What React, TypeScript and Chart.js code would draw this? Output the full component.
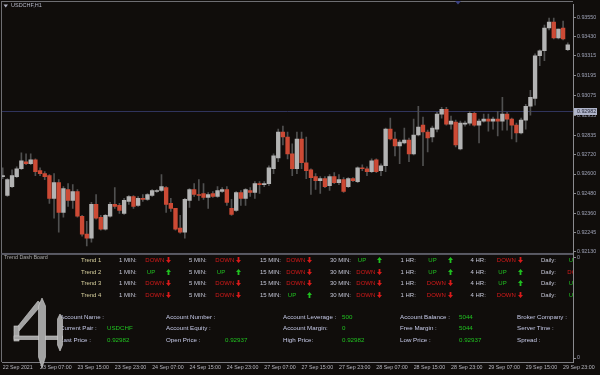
import React, { useEffect, useRef } from 'react';
import { Chart, registerables } from 'chart.js';
Chart.register(...registerables);

const timeLabels = ['22 Sep 2021', '23 Sep 07:00', '23 Sep 15:00', '23 Sep 23:00', '24 Sep 07:00', '24 Sep 15:00', '24 Sep 23:00', '27 Sep 07:00', '27 Sep 15:00', '27 Sep 23:00', '28 Sep 07:00', '28 Sep 15:00', '28 Sep 23:00', '29 Sep 07:00', '29 Sep 15:00', '29 Sep 23:00'];

const opens = [
  0.92584, 0.92470, 0.92524, 0.92584, 0.92632, 0.92674, 0.92662, 0.92686, 0.92620, 0.92602,
  0.92590, 0.92452, 0.92548, 0.92368, 0.92506, 0.92440, 0.92494, 0.92344, 0.92236, 0.92212,
  0.92416, 0.92338, 0.92266, 0.92344, 0.92416, 0.92410, 0.92362, 0.92434, 0.92464, 0.92410,
  0.92452, 0.92446, 0.92470, 0.92494, 0.92500, 0.92518, 0.92422, 0.92392, 0.92272, 0.92248,
  0.92440, 0.92506, 0.92476, 0.92482, 0.92458, 0.92482, 0.92464, 0.92494, 0.92506, 0.92392,
  0.92380, 0.92488, 0.92452, 0.92500, 0.92488, 0.92542, 0.92536, 0.92542, 0.92632, 0.92698,
  0.92854, 0.92824, 0.92722, 0.92632, 0.92812, 0.92668, 0.92626, 0.92584, 0.92560, 0.92572,
  0.92530, 0.92584, 0.92548, 0.92566, 0.92524, 0.92572, 0.92554, 0.92638, 0.92632, 0.92614,
  0.92686, 0.92620, 0.92650, 0.92872, 0.92812, 0.92770, 0.92788, 0.92806, 0.92722, 0.92836,
  0.92896, 0.92854, 0.92824, 0.92872, 0.92962, 0.92992, 0.92902, 0.92914, 0.92752, 0.92902,
  0.92908, 0.92968, 0.92896, 0.92920, 0.92932, 0.92920, 0.92932, 0.92920, 0.92962, 0.92932,
  0.92896, 0.92848, 0.92926, 0.93010, 0.93058, 0.93316, 0.93346, 0.93484, 0.93520, 0.93424,
  0.93484, 0.93352,
];

const highs = [
  0.92638, 0.92572, 0.92626, 0.92644, 0.92728, 0.92722, 0.92722, 0.92692, 0.92638, 0.92614,
  0.92596, 0.92602, 0.92566, 0.92524, 0.92542, 0.92536, 0.92506, 0.92350, 0.92314, 0.92428,
  0.92476, 0.92350, 0.92356, 0.92428, 0.92518, 0.92422, 0.92452, 0.92470, 0.92470, 0.92464,
  0.92476, 0.92482, 0.92506, 0.92506, 0.92596, 0.92524, 0.92452, 0.92392, 0.92350, 0.92452,
  0.92512, 0.92542, 0.92566, 0.92542, 0.92488, 0.92494, 0.92524, 0.92518, 0.92524, 0.92446,
  0.92494, 0.92500, 0.92512, 0.92518, 0.92554, 0.92554, 0.92554, 0.92650, 0.92722, 0.92872,
  0.92890, 0.92854, 0.92782, 0.92854, 0.92854, 0.92824, 0.92632, 0.92602, 0.92584, 0.92584,
  0.92596, 0.92608, 0.92596, 0.92578, 0.92578, 0.92578, 0.92644, 0.92656, 0.92644, 0.92692,
  0.92692, 0.92662, 0.92878, 0.92938, 0.92854, 0.92806, 0.92878, 0.92818, 0.92932, 0.93010,
  0.92944, 0.92866, 0.92890, 0.92974, 0.93004, 0.93004, 0.92950, 0.92926, 0.92920, 0.92920,
  0.92980, 0.92974, 0.92932, 0.92962, 0.92962, 0.92944, 0.92980, 0.93064, 0.92974, 0.92938,
  0.92908, 0.92938, 0.93022, 0.93106, 0.93328, 0.93352, 0.93502, 0.93544, 0.93544, 0.93478,
  0.93526, 0.93394,
];

const lows = [
  0.92572, 0.92464, 0.92518, 0.92578, 0.92626, 0.92656, 0.92656, 0.92590, 0.92590, 0.92566,
  0.92422, 0.92332, 0.92248, 0.92338, 0.92404, 0.92392, 0.92338, 0.92224, 0.92164, 0.92188,
  0.92326, 0.92260, 0.92260, 0.92338, 0.92392, 0.92362, 0.92356, 0.92416, 0.92392, 0.92404,
  0.92434, 0.92440, 0.92464, 0.92488, 0.92494, 0.92368, 0.92374, 0.92260, 0.92242, 0.92212,
  0.92398, 0.92464, 0.92440, 0.92446, 0.92392, 0.92458, 0.92458, 0.92488, 0.92410, 0.92350,
  0.92374, 0.92410, 0.92410, 0.92464, 0.92452, 0.92482, 0.92524, 0.92530, 0.92602, 0.92674,
  0.92776, 0.92692, 0.92590, 0.92602, 0.92632, 0.92572, 0.92476, 0.92506, 0.92482, 0.92518,
  0.92500, 0.92542, 0.92536, 0.92488, 0.92518, 0.92554, 0.92548, 0.92620, 0.92590, 0.92608,
  0.92608, 0.92590, 0.92614, 0.92806, 0.92710, 0.92662, 0.92782, 0.92674, 0.92716, 0.92830,
  0.92650, 0.92734, 0.92794, 0.92854, 0.92938, 0.92896, 0.92872, 0.92764, 0.92746, 0.92890,
  0.92896, 0.92890, 0.92788, 0.92914, 0.92860, 0.92872, 0.92830, 0.92866, 0.92866, 0.92812,
  0.92794, 0.92842, 0.92872, 0.92956, 0.93016, 0.93256, 0.93286, 0.93472, 0.93418, 0.93418,
  0.93412, 0.93346,
];

const closes = [
  0.92590, 0.92566, 0.92590, 0.92632, 0.92680, 0.92662, 0.92686, 0.92614, 0.92602, 0.92584,
  0.92452, 0.92548, 0.92368, 0.92512, 0.92440, 0.92494, 0.92344, 0.92236, 0.92212, 0.92416,
  0.92332, 0.92266, 0.92350, 0.92416, 0.92404, 0.92380, 0.92440, 0.92464, 0.92404, 0.92452,
  0.92446, 0.92476, 0.92500, 0.92500, 0.92524, 0.92416, 0.92392, 0.92266, 0.92248, 0.92446,
  0.92506, 0.92476, 0.92470, 0.92458, 0.92476, 0.92464, 0.92500, 0.92506, 0.92428, 0.92356,
  0.92488, 0.92452, 0.92506, 0.92488, 0.92542, 0.92536, 0.92542, 0.92638, 0.92710, 0.92854,
  0.92824, 0.92722, 0.92632, 0.92812, 0.92668, 0.92620, 0.92578, 0.92560, 0.92572, 0.92524,
  0.92584, 0.92548, 0.92566, 0.92494, 0.92572, 0.92560, 0.92638, 0.92632, 0.92614, 0.92680,
  0.92614, 0.92650, 0.92872, 0.92812, 0.92770, 0.92794, 0.92806, 0.92722, 0.92836, 0.92884,
  0.92854, 0.92818, 0.92878, 0.92962, 0.92992, 0.92902, 0.92920, 0.92776, 0.92908, 0.92908,
  0.92968, 0.92896, 0.92920, 0.92932, 0.92920, 0.92932, 0.92920, 0.92962, 0.92932, 0.92896,
  0.92848, 0.92926, 0.93010, 0.93064, 0.93316, 0.93346, 0.93484, 0.93520, 0.93424, 0.93478,
  0.93418, 0.93382,
];

const priceTicks = [0.93550, 0.93430, 0.93315, 0.93195, 0.93075, 0.92955, 0.92835, 0.92720, 0.92600, 0.92480, 0.92360, 0.92245, 0.92130];
const bidPrice = 0.92982;
const symbolTitle = 'USDCHF,H1';

const trendNames = ['Trend 1', 'Trend 2', 'Trend 3', 'Trend 4'];
const timeframes = ['1 MIN:', '5 MIN:', '15 MIN:', '30 MIN:', '1 HR:', '4 HR:', 'Daily:'];
const trendSignals = [
  ['DOWN', 'DOWN', 'DOWN', 'UP', 'UP', 'DOWN', 'UP'],
  ['UP', 'UP', 'DOWN', 'DOWN', 'UP', 'UP', 'DOWN'],
  ['DOWN', 'DOWN', 'DOWN', 'DOWN', 'DOWN', 'UP', 'UP'],
  ['DOWN', 'DOWN', 'UP', 'DOWN', 'DOWN', 'DOWN', 'UP'],
];
const accountLabels = [
  ['Account Name :', 'Current Pair :', 'Last Price :'],
  ['Account Number :', 'Account Equity :', 'Open Price :'],
  ['Account Leverage :', 'Account Margin:', 'High Price:'],
  ['Account Balance :', 'Free Margin :', 'Low Price :'],
  ['Broker Company :', 'Server Time :', 'Spread :'],
];
const accountValues = [
  ['', 'USDCHF', '0.92982'],
  ['', '', '0.92937'],
  ['500', '0', '0.92982'],
  ['5044', '5044', '0.92937'],
  ['', '', ''],
];

const FONT = '"Liberation Sans", Arial, sans-serif';
const BG = '#100d0b';
const BULL = '#b3b3b3';
const BEAR = '#cc4a35';
const WICK = '#505050';
const AXIS_TXT = '#a0a4b8';
const RED = '#d81a1a';
const GREEN = '#20c020';

// layout constants (px)
const SUB_TOP = 253;
const rowY = [260, 271.7, 283.3, 295];
const tfX = [119, 189, 260, 330, 400.5, 470.5, 541];
const accRowY = [316.7, 328.3, 339.7];
const accLabelX = [60, 166, 283, 400, 517];
const accValueX = [107, 225, 342, 459, 0];

function Txt(props: { x: number; y: number; s: string; color: string; size: number }) {
  const { x, y, s, color, size } = props;
  return (
    <span
      style={{
        position: 'absolute',
        left: x,
        top: y - SUB_TOP - size * 0.5,
        fontSize: size,
        lineHeight: size + 'px',
        color,
        whiteSpace: 'nowrap',
        fontFamily: FONT,
      }}
    >
      {s}
    </span>
  );
}

function Arrow(props: { x: number; y: number; up: boolean }) {
  const { x, y, up } = props;
  const pts = up
    ? '2.5,0 5,3 3.4,3 3.4,6 1.6,6 1.6,3 0,3'
    : '1.6,0 3.4,0 3.4,3 5,3 2.5,6 0,3 1.6,3';
  return (
    <svg
      width={5}
      height={6}
      style={{ position: 'absolute', left: x, top: y - SUB_TOP - 3.2 }}
    >
      <polygon points={pts} fill={up ? GREEN : RED} />
    </svg>
  );
}

export default function App() {
  const ref = useRef<HTMLCanvasElement>(null);

  useEffect(() => {
    document.body.style.margin = '0';
    const cv = ref.current;
    if (!cv) return;
    const idx = closes.map((_, i) => i);
    const bodyData = idx.map((i) => ({ x: i, y: [Math.min(opens[i], closes[i]), Math.max(opens[i], closes[i])] }));
    const wickData = idx.map((i) => ({ x: i, y: [lows[i], highs[i]] }));
    const bodyColors = idx.map((i) => (closes[i] >= opens[i] ? BULL : BEAR));

    const mt4Plugin = {
      id: 'mt4frame',
      beforeDatasetsDraw(chart: any) {
        const { ctx, chartArea } = chart;
        const y = Math.round(chart.scales.y.getPixelForValue(bidPrice)) + 0.5;
        ctx.save();
        ctx.strokeStyle = '#30345c';
        ctx.lineWidth = 1;
        ctx.beginPath();
        ctx.moveTo(chartArea.left, y);
        ctx.lineTo(chartArea.right, y);
        ctx.stroke();
        ctx.restore();
      },
      afterDraw(chart: any) {
        const { ctx, chartArea } = chart;
        ctx.save();
        ctx.strokeStyle = '#6e6e72';
        ctx.lineWidth = 1;
        ctx.beginPath();
        ctx.moveTo(1.5, 1);
        ctx.lineTo(1.5, chartArea.bottom);
        ctx.moveTo(1, 1.5);
        ctx.lineTo(chartArea.right, 1.5);
        ctx.stroke();
        const yMainBottom = chart.scales.y.bottom;
        ctx.fillStyle = '#5a5a64';
        ctx.fillRect(1, yMainBottom - 1, chartArea.right - 1, 2);
        // bid price label
        const y = Math.round(chart.scales.y.getPixelForValue(bidPrice)) + 0.5;
        ctx.fillStyle = '#b0b5ca';
        ctx.fillRect(chartArea.right + 1, y - 3.5, 23, 7);
        ctx.fillStyle = '#1e2030';
        ctx.font = '5.3px ' + FONT;
        ctx.textBaseline = 'middle';
        ctx.textAlign = 'left';
        ctx.fillText(bidPrice.toFixed(5), chartArea.right + 4, y);
        ctx.restore();
      },
    };

    const tickFont = { size: 5.3, family: FONT };

    const chart = new Chart(cv, {
      type: 'bar',
      data: {
        datasets: [
          {
            label: 'body',
            data: bodyData as any,
            backgroundColor: bodyColors,
            borderWidth: 0,
            barThickness: 3.7,
            grouped: false,
            order: 0,
            xAxisID: 'x',
            yAxisID: 'y',
          } as any,
          {
            label: 'wick',
            data: wickData as any,
            backgroundColor: WICK,
            borderWidth: 0,
            barThickness: 1,
            grouped: false,
            order: 1,
            xAxisID: 'x',
            yAxisID: 'y',
          } as any,
        ],
      },
      options: {
        animation: false,
        responsive: false,
        maintainAspectRatio: false,
        events: [],
        layout: { padding: { top: 1, left: 2, right: 0, bottom: 0 } },
        plugins: { legend: { display: false }, tooltip: { enabled: false } },
        scales: {
          x: {
            type: 'linear',
            min: -0.15,
            max: 122.12,
            offset: false,
            grid: { display: false, drawTicks: false },
            border: { display: true, color: '#7c7c80' },
            afterBuildTicks: (s: any) => {
              s.ticks = timeLabels.map((_, k) => ({ value: k * 8 }));
            },
            afterFit: (s: any) => {
              s.height = 13;
            },
            ticks: {
              autoSkip: false,
              maxRotation: 0,
              minRotation: 0,
              align: 'start',
              padding: 2,
              color: '#b8b8c0',
              font: tickFont,
              callback: (v: any) => timeLabels[Math.round(Number(v) / 8)] ?? '',
            },
          },
          y: {
            type: 'linear',
            position: 'right',
            stack: 'win',
            stackWeight: 252,
            min: 0.92116,
            max: 0.93628,
            beginAtZero: false,
            grid: { drawOnChartArea: false, drawTicks: true, tickLength: 3, color: '#8a8a8e' },
            border: { display: true, color: '#8a8a8e' },
            afterBuildTicks: (s: any) => {
              s.ticks = priceTicks.map((v) => ({ value: v }));
            },
            afterFit: (s: any) => {
              s.width = 27;
            },
            ticks: {
              autoSkip: false,
              padding: 1,
              color: AXIS_TXT,
              font: tickFont,
              callback: (v: any) => Number(v).toFixed(5),
            },
          },
          ySub: {
            type: 'linear',
            position: 'right',
            stack: 'win',
            stackWeight: 109,
            min: -0.0396,
            max: 1.0396,
            grid: { drawOnChartArea: false, drawTicks: true, tickLength: 3, color: '#8a8a8e' },
            border: { display: true, color: '#8a8a8e' },
            afterBuildTicks: (s: any) => {
              s.ticks = [{ value: 1 }, { value: 0 }];
            },
            afterFit: (s: any) => {
              s.width = 27;
            },
            ticks: { autoSkip: false, padding: 1, color: AXIS_TXT, font: tickFont, callback: () => '0' },
          },
        } as any,
      },
      plugins: [mt4Plugin],
    } as any);

    return () => chart.destroy();
  }, []);

  return (
    <div style={{ position: 'relative', width: 600, height: 375, background: BG, overflow: 'hidden', fontFamily: FONT }}>
      <canvas ref={ref} width={600} height={375} style={{ position: 'absolute', left: 0, top: 0, display: 'block' }} />
      <span
        style={{
          position: 'absolute',
          left: 11,
          top: 3.2,
          fontSize: 5.5,
          lineHeight: '5.5px',
          color: '#b6b8c8',
          whiteSpace: 'nowrap',
        }}
      >
        {symbolTitle}
      </span>
      <div style={{ position: 'absolute', left: 0, top: SUB_TOP, width: 573, height: 109, overflow: 'hidden' }}>
        <Txt x={4} y={257.7} s="Trend Dash Board" color="#a6a6a6" size={5.4} />
        {trendNames.map((name, r) => (
          <React.Fragment key={name}>
            <Txt x={81} y={rowY[r]} s={name} color="#d6ce9c" size={6} />
            {timeframes.map((tf, c) => {
              const sig = trendSignals[r][c];
              const up = sig === 'UP';
              return (
                <React.Fragment key={tf}>
                  <Txt x={tfX[c]} y={rowY[r]} s={tf} color="#c4c6d6" size={6} />
                  <Txt x={tfX[c] + (up ? 27.8 : 26.3)} y={rowY[r]} s={sig} color={up ? GREEN : RED} size={6} />
                  <Arrow x={tfX[c] + 47} y={rowY[r]} up={up} />
                </React.Fragment>
              );
            })}
          </React.Fragment>
        ))}
        {accountLabels.map((col, c) => (
          <React.Fragment key={'acc' + c}>
            {col.map((lab, r) => (
              <React.Fragment key={lab}>
                <Txt x={accLabelX[c]} y={accRowY[r]} s={lab} color="#c6cae8" size={6.2} />
                {accountValues[c][r] ? (
                  <Txt x={accValueX[c]} y={accRowY[r]} s={accountValues[c][r]} color={GREEN} size={6.2} />
                ) : null}
              </React.Fragment>
            ))}
          </React.Fragment>
        ))}
      </div>
      <svg width={600} height={375} style={{ position: 'absolute', left: 0, top: 0, pointerEvents: 'none' }}>
        <polygon points="3.5,4.5 8,4.5 5.75,7.5" fill="#b0b2c2" />
        <polygon points="455,1 461,1 458,4.5" fill="#3c4282" />
        <g fill="#a2a2a2" stroke="#d2d2d2" strokeWidth={0.6}>
          <polygon points="38,301 42,304.5 19,331 14,331" />
          <rect x={14} y={326} width={5} height={15} />
          <rect x={14} y={336} width={48.5} height={3.5} />
          <polygon points="42,298 45.5,306 45.5,357 42,368 38.5,357 38.5,306" />
          <polygon points="60,314 62.5,319 62.5,345 60,351 57.5,345 57.5,319" />
        </g>
      </svg>
    </div>
  );
}
